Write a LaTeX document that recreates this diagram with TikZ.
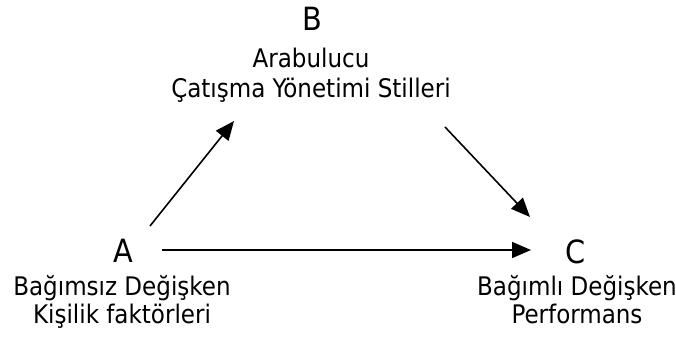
\documentclass[tikz,border=0pt]{standalone}
\usepackage{fontspec}
\setmainfont{DejaVu Sans Condensed}
\usetikzlibrary{arrows.meta}
\begin{document}
\begin{tikzpicture}[x=1pt,y=-1pt,
  big/.style={font=\fontsize{32}{36}\selectfont, anchor=base, inner sep=0pt},
  lbl/.style={font=\fontsize{25.6}{29}\selectfont, anchor=base, inner sep=0pt},
  arr/.style={line width=1.6pt, -{Triangle[length=19pt,width=16pt]}}]
\useasboundingbox (0,0) rectangle (676,338);
% letters
\node[big] (B) at (312,30) {B};
\node[big] (A) at (123,262) {A};
\node[big] (C) at (576,263) {C};
% labels
\node[lbl] (B1) at (311,67) {Arabulucu};
\node[lbl] (B2) at (311,97) {Çatışma Yönetimi Stilleri};
\node[lbl] (A1) at (122,295) {Bağımsız Değişken};
\node[lbl] (A2) at (122,323) {Kişilik faktörleri};
\node[lbl] (C1) at (577,295) {Bağımlı Değişken};
\node[lbl] (C2) at (577,323) {Performans};
% connector ends
\coordinate (ab0) at (150,226);
\coordinate (ab1) at (234,121);
\coordinate (bc0) at (445,127);
\coordinate (bc1) at (530,217);
\coordinate (ac0) at (162,250);
\coordinate (ac1) at (531,250);
\draw[arr] (ab0) -- (ab1);
\draw[arr] (bc0) -- (bc1);
\draw[arr] (ac0) -- (ac1);
\end{tikzpicture}
\end{document}
